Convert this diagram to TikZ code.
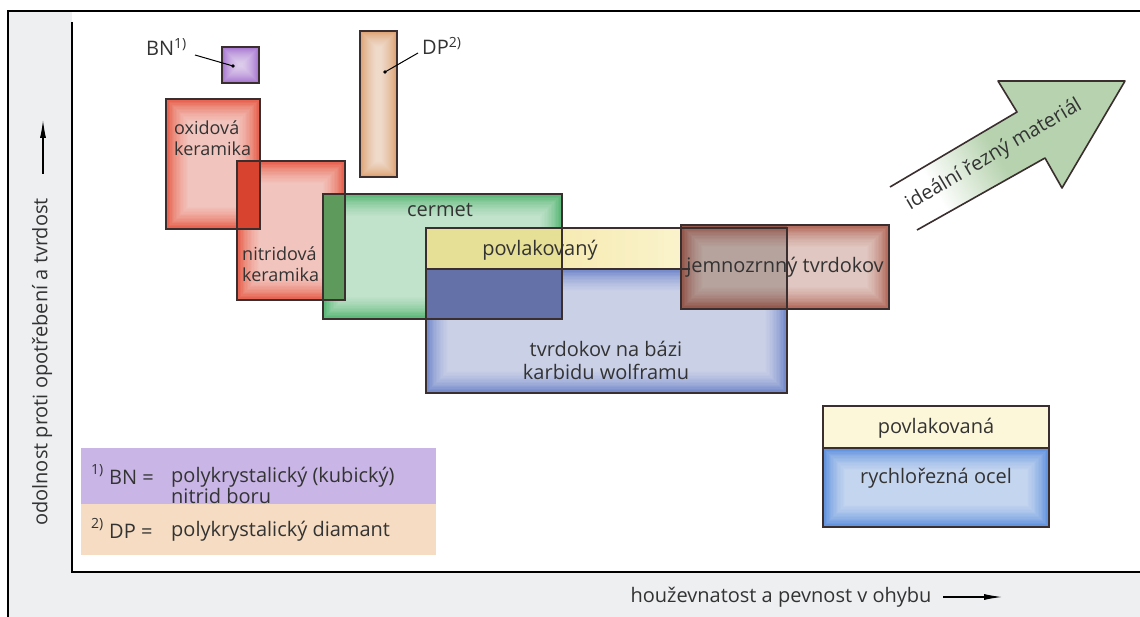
\documentclass[tikz,border=0pt]{standalone}
\usepackage{fontspec}
\setmainfont{Open Sans}
\usetikzlibrary{arrows.meta}
\definecolor{bandgray}{HTML}{EDEFF1}
\definecolor{txt}{HTML}{333333}
\definecolor{edge}{HTML}{3A2E2E}
\definecolor{bnpurple}{HTML}{A473D0}
\definecolor{dporange}{HTML}{DC9F70}
\definecolor{ceramred}{HTML}{E65A46}
\definecolor{ceramdark}{HTML}{D8432F}
\definecolor{cermetgreen}{HTML}{55B672}
\definecolor{nitcerm}{HTML}{5E9A5C}
\definecolor{wcblue}{HTML}{6E84C8}
\definecolor{wcdark}{HTML}{6470A8}
\definecolor{coatyelL}{HTML}{F3E399}
\definecolor{coatyelR}{HTML}{FDF9E0}
\definecolor{finebrown}{HTML}{B06454}
\definecolor{hssblue}{HTML}{5C8EDE}
\definecolor{hsscoat}{HTML}{FDF7DA}
\definecolor{legpurple}{HTML}{C9B6E6}
\definecolor{legorange}{HTML}{F5DCC2}
\definecolor{arrowgreen}{HTML}{B6D2AE}
\pgfdeclareverticalshading{arrowfade}{100bp}{color(0bp)=(white); color(30bp)=(white); color(48bp)=(arrowgreen); color(100bp)=(arrowgreen)}
\newcommand{\matbox}[5]{%
  \fill[#5] (#1,#2) rectangle (#3,#4);
  \pgfmathsetmacro{\mbstep}{min(1.4,min(#3-#1,#4-#2)/36)}
  \foreach \k in {1,...,16}{\fill[white,fill opacity=0.065] ({#1+\k*\mbstep},{#2+\k*\mbstep}) rectangle ({#3-\k*\mbstep},{#4-\k*\mbstep});}
}
\begin{document}
\begin{tikzpicture}[x=1pt,y=-1pt,
  every node/.style={text=txt, inner sep=0pt},
  font=\fontsize{20}{23}\selectfont,
  border/.style={draw=edge, line width=1.5pt},
  axisline/.style={draw=black, line width=1.8pt},
  leader/.style={draw=black, line width=1pt},
  dotmark/.style={fill=black},
  smalltext/.style={font=\fontsize{18}{20.5}\selectfont},
  labtip/.style={-{Latex[length=18pt,width=6pt]}, line width=1.1pt}]
\useasboundingbox (0,0) rectangle (1140,617);
\fill[white] (0,0) rectangle (1140,617);
% frame and bands
\fill[bandgray] (8,11) rectangle (72,617);
\fill[bandgray] (8,572) rectangle (1140,617);
\draw[axisline] (8,617) -- (8,11) -- (1140,11);
\draw[axisline] (72,22) -- (72,572) -- (1140,572);

% axis labels
\node[rotate=90] (ylab) at (42,362) {odolnost proti opotřebení a tvrdost};
\coordinate (yarrA) at (43,174);
\coordinate (yarrB) at (43,120);
\draw[labtip] (yarrA) -- (yarrB);
\node (xlab) at (781,597) {houževnatost a pevnost v ohybu};
\coordinate (xarrA) at (943,597);
\coordinate (xarrB) at (1002,597);
\draw[labtip] (xarrA) -- (xarrB);

% ceramics
\matbox{166}{99}{260}{229}{ceramred}
\matbox{237}{161}{345}{300}{ceramred}
\fill[ceramdark] (237,161) rectangle (260,229);
% cermet
\matbox{323}{194}{562}{319}{cermetgreen}
\fill[nitcerm] (323,194) rectangle (345,300);
% tungsten carbide
\matbox{426}{269}{787}{393}{wcblue}
\shade[left color=coatyelL, right color=coatyelR] (426,228) rectangle (787,269);
\fill[wcdark] (426,269) rectangle (562,319);
\fill[coatyelL!92!cermetgreen] (426,228) rectangle (562,269);
% fine grain
\matbox{681}{225}{889}{309}{finebrown}
\fill[black,fill opacity=0.18] (681,225) rectangle (787,309);
% borders
\draw[border] (166,99) rectangle (260,229);
\draw[border] (237,161) rectangle (345,300);
\draw[border] (323,194) rectangle (562,319);
\draw[border] (426,228) rectangle (787,393);
\draw[border] (426,269) -- (690,269);
\draw[border] (681,225) rectangle (889,309);

% BN and DP
\matbox{222}{47}{259}{83}{bnpurple}
\draw[border] (222,47) rectangle (259,83);
\matbox{360}{31}{397}{177}{dporange}
\draw[border] (360,31) rectangle (397,177);
\node[anchor=west] (bnlab) at (146,47) {BN\textsuperscript{1)}};
\coordinate (bndot) at (233,66);
\draw[leader] (195,55) -- (bndot);
\fill[dotmark] (bndot) circle (1.8);
\node[anchor=west] (dplab) at (422,46) {DP\textsuperscript{2)}};
\coordinate (dpdot) at (385,72);
\coordinate (dpend) at (418,53);
\draw[leader] (dpdot) -- (dpend);
\fill[dotmark] (dpdot) circle (1.8);

% box texts
\node[anchor=west, align=left, smalltext] (oxid) at (174,138) {oxidová\\keramika};
\node[anchor=west, align=left, smalltext] (nitr) at (242,264) {nitridová\\keramika};
\node (cerm) at (440,210) {cermet};
\node (povl) at (540,250) {povlakovaný};
\node (jemn) at (785,267) {jemnozrnný tvrdokov};
\node[align=center] (wc) at (606,360) {tvrdokov na bázi\\karbidu wolframu};

% HSS
\fill[hsscoat] (823,406) rectangle (1049,448);
\matbox{823}{448}{1049}{527}{hssblue}
\draw[border] (823,406) rectangle (1049,527);
\draw[border] (823,448) -- (1049,448);
\node (hssc) at (936,428) {povlakovaná};
\node (hss) at (936,478) {rychlořezná ocel};

% ideal arrow
\shade[shading=arrowfade, shading angle=-59]
  (890,187) -- (1017,112) -- (998,81) -- (1125,81) -- (1062,188) -- (1045,158) -- (917,230) -- cycle;
\draw[line width=1.6pt, edge, line join=round] (890,187) -- (1017,112) -- (998,81) -- (1125,81) -- (1062,188) -- (1045,158) -- (917,230);
\node[rotate=30.5] (ideal) at (994,155) {ideální řezný materiál};

% legend
\fill[legpurple] (81,448) rectangle (436,504);
\fill[legorange] (81,504) rectangle (436,555);
\node[anchor=west] (l1s) at (91,473) {\textsuperscript{1)}};
\node[anchor=west] (l1a) at (109,477) {BN =};
\node[anchor=west, align=left, font=\fontsize{20}{19}\selectfont] (l1b) at (171,485) {polykrystalický (kubický)\\nitrid boru};
\node[anchor=west] (l2s) at (91,527) {\textsuperscript{2)}};
\node[anchor=west] (l2a) at (109,531) {DP =};
\node[anchor=west] (l2b) at (171,531) {polykrystalický diamant};
\end{tikzpicture}
\end{document}
